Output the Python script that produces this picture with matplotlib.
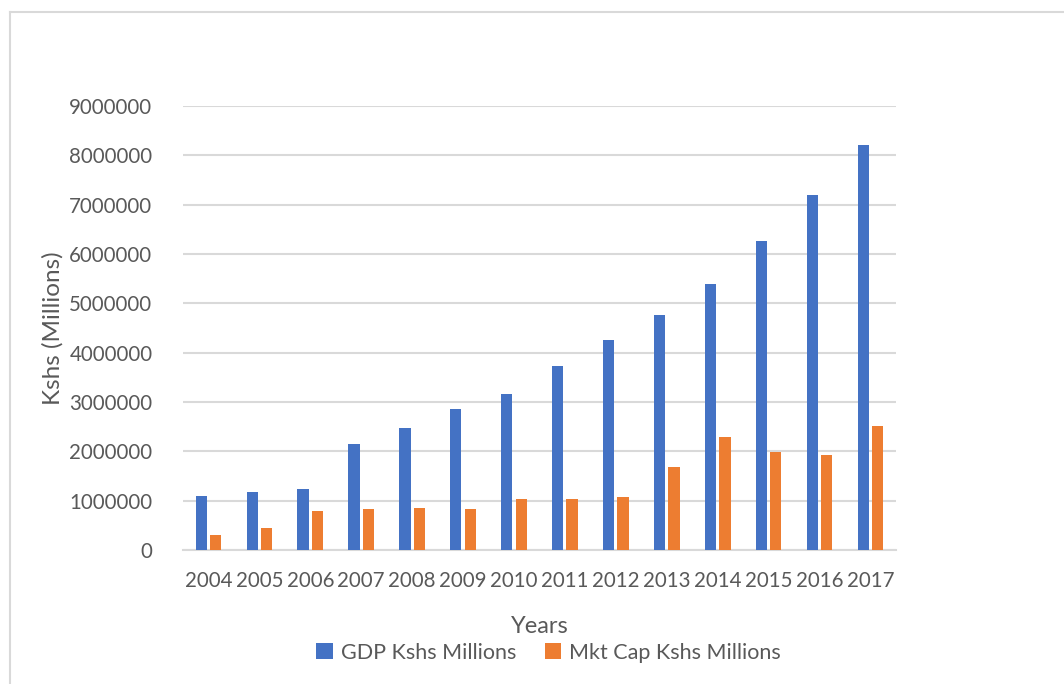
import matplotlib.pyplot as plt
from matplotlib.lines import Line2D
import numpy as np

plt.rcParams['font.family'] = ['Lato', 'DejaVu Sans']

years = ['2004', '2005', '2006', '2007', '2008', '2009', '2010',
         '2011', '2012', '2013', '2014', '2015', '2016', '2017']
gdp = [1100000, 1180000, 1240000, 2150000, 2470000, 2860000, 3160000,
       3720000, 4250000, 4760000, 5390000, 6260000, 7190000, 8200000]
mkt_cap = [300000, 450000, 780000, 840000, 850000, 820000, 1030000,
           1030000, 1070000, 1680000, 2280000, 1990000, 1930000, 2520000]

text_col = '#595959'
grid_col = '#D9D9D9'

fig = plt.figure(figsize=(10.64, 6.84), dpi=100)
ax = fig.add_axes([0.172, 0.196, 0.670, 0.649])

x = np.arange(len(years))
w = 0.222
off = 0.142
ax.bar(x - off, gdp, w, color='#4472C4', label='GDP Kshs Millions', zorder=3)
ax.bar(x + off, mkt_cap, w, color='#ED7D31', label='Mkt Cap Kshs Millions', zorder=3)

ax.set_xlim(-0.5, len(years) - 0.5)
ax.set_ylim(0, 9000000)
ax.set_yticks(np.arange(0, 9000001, 1000000))
ax.set_yticklabels([str(v) for v in range(0, 9000001, 1000000)])
ax.set_xticks(x)
ax.set_xticklabels(years)
ax.yaxis.grid(True, color=grid_col, linewidth=1.5, zorder=0)
ax.tick_params(length=0, labelsize=14.8, labelcolor=text_col)
ax.tick_params(axis='y', pad=22)
ax.tick_params(axis='x', pad=15)
for s in ['top', 'right', 'left']:
    ax.spines[s].set_visible(False)
ax.spines['bottom'].set_color(grid_col)
ax.spines['bottom'].set_linewidth(1.5)

ax.set_xlabel('Years', fontsize=17, color=text_col, labelpad=18)
ax.set_ylabel('Kshs (Millions)', fontsize=17.5, color=text_col, labelpad=4)

ax.legend(loc='upper center', bbox_to_anchor=(0.513, -0.165), ncol=2,
          frameon=False, fontsize=15.5, labelcolor=text_col,
          handlelength=0.75, handleheight=0.75, handletextpad=0.4,
          columnspacing=1.3)

# chart area frame
fig.add_artist(Line2D([10 / 1064, 10 / 1064], [0, 1 - 12 / 684],
                      transform=fig.transFigure, color=grid_col, lw=1.5))
fig.add_artist(Line2D([10 / 1064, 1], [1 - 12 / 684, 1 - 12 / 684],
                      transform=fig.transFigure, color=grid_col, lw=1.5))

fig.savefig('out.png', dpi=100)
